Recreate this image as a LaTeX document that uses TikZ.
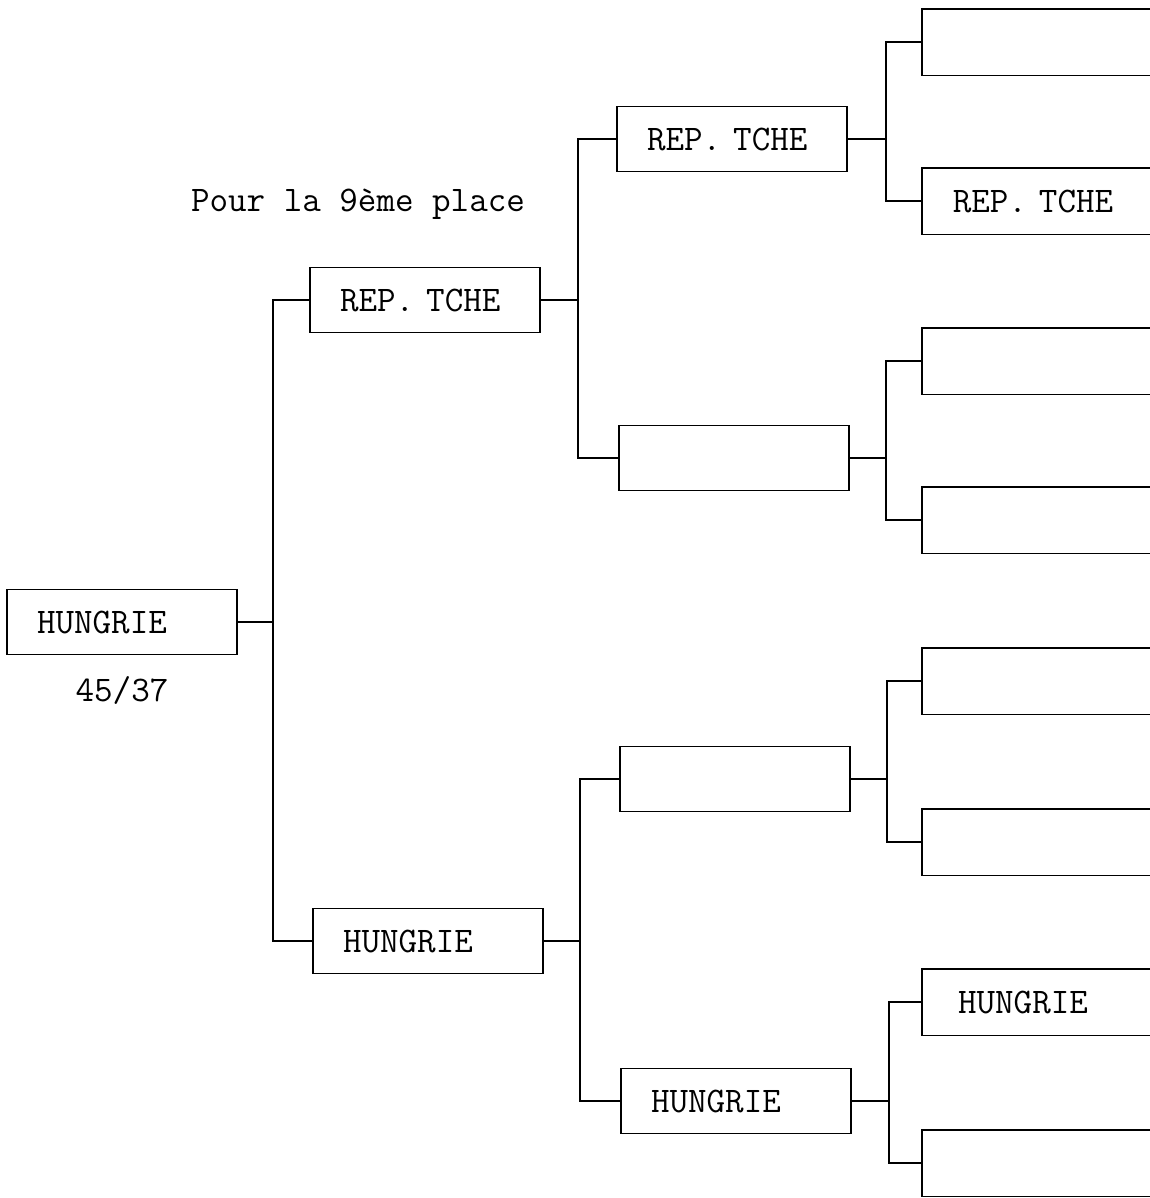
\documentclass[tikz,border=0pt]{standalone}
\usetikzlibrary{positioning}
\tikzset{
team_box/.style={rectangle, draw, line width=0.9pt, minimum width=4.6cm, minimum height=1.3cm, inner xsep=0.6cm, inner ysep=0pt, text width=3.4cm, align=left, font=\ttfamily\fontsize{20.5}{22}\selectfont},
open_box/.style={team_box, draw=none, anchor=west, minimum width=5.4cm, text width=4.2cm},
message/.style={rectangle, inner sep=0pt, font=\ttfamily\fontsize{20.5}{22}\selectfont},
link/.style={line width=0.9pt}
}
\begin{document}
\begin{tikzpicture}[x=0.02cm, y=-0.02cm]
    \useasboundingbox (0,0) rectangle (1150,1198);
    \node[message] (title) at (358,204) {Pour la 9ème place};

    \node[team_box] (final) at (122,622) {HUNGRIE};
    \node[message] (score) [below=0.42cm of final] {45/37};

    \node[team_box] (r1_a) at (425,300) {REP. TCHE};
    \node[team_box] (r1_b) at (428,941) {HUNGRIE};

    \node[team_box] (r2_a) at (732,139) {REP. TCHE};
    \node[team_box] (r2_b) at (734,458) {};
    \node[team_box] (r2_c) at (735,779) {};
    \node[team_box] (r2_d) at (736,1101) {HUNGRIE};

    % last round, cut off at the right edge of the page
    \node[open_box] (r3_a) at (922,42) {};
    \node[open_box] (r3_b) at (922,201) {REP. TCHE};
    \node[open_box] (r3_c) at (922,361) {};
    \node[open_box] (r3_d) at (922,520) {};
    \node[open_box] (r3_e) at (922,681) {};
    \node[open_box] (r3_f) at (922,842) {};
    \node[open_box] (r3_g) at (922,1002) {\hspace*{3pt}HUNGRIE};
    \node[open_box] (r3_h) at (922,1163) {};
    \foreach \n in {r3_a,r3_b,r3_c,r3_d,r3_e,r3_f,r3_g,r3_h}
        \draw[link] (\n.north -| 1150,0) -- (\n.north west) -- (\n.south west) -- (\n.south -| 1150,0);

    \coordinate (j_0) at (273,0);
    \coordinate (j_1) at (578,0);
    \coordinate (j_2) at (580,0);
    \coordinate (j_3) at (886,0);
    \coordinate (j_4) at (887,0);
    \coordinate (j_5) at (889,0);

    \draw[link] (final.east) -- (final.east -| j_0);
    \draw[link] (r1_a.west) -- (r1_a.west -| j_0) |- (r1_b.west);

    \draw[link] (r1_a.east) -- (r1_a.east -| j_1);
    \draw[link] (r2_a.west) -- (r2_a.west -| j_1) |- (r2_b.west);
    \draw[link] (r1_b.east) -- (r1_b.east -| j_2);
    \draw[link] (r2_c.west) -- (r2_c.west -| j_2) |- (r2_d.west);

    \draw[link] (r2_a.east) -- (r2_a.east -| j_3);
    \draw[link] (r3_a.west) -- (r3_a.west -| j_3) |- (r3_b.west);
    \draw[link] (r2_b.east) -- (r2_b.east -| j_3);
    \draw[link] (r3_c.west) -- (r3_c.west -| j_3) |- (r3_d.west);
    \draw[link] (r2_c.east) -- (r2_c.east -| j_4);
    \draw[link] (r3_e.west) -- (r3_e.west -| j_4) |- (r3_f.west);
    \draw[link] (r2_d.east) -- (r2_d.east -| j_5);
    \draw[link] (r3_g.west) -- (r3_g.west -| j_5) |- (r3_h.west);
\end{tikzpicture}
\end{document}
